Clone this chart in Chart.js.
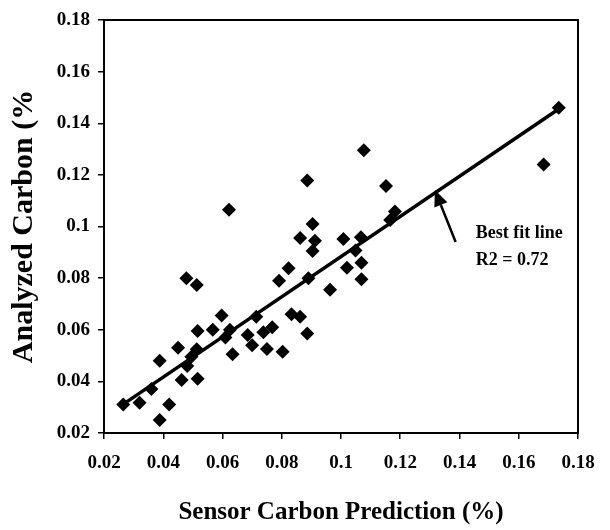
<!DOCTYPE html>
<html>
<head>
<meta charset="utf-8">
<script src="https://cdn.jsdelivr.net/npm/chart.js@4.4.1/dist/chart.umd.min.js"></script>
<style>
  html, body { margin: 0; padding: 0; background: #fff; }
  #wrap { width: 610px; height: 530px; }
</style>
</head>
<body>
<div id="wrap"><canvas id="chart"></canvas></div>
<script>
// sensor prediction (x) vs analyzed carbon (y)
const sensorX = [0.0265, 0.032, 0.036, 0.0388, 0.042, 0.0388, 0.045, 0.0478, 0.0513, 0.0462,
  0.0516, 0.0481, 0.0516, 0.0513, 0.0495, 0.0567, 0.0597, 0.0622, 0.0625, 0.061,
  0.0634, 0.0685, 0.0714, 0.070, 0.0738, 0.0768, 0.075, 0.0803, 0.0791, 0.0823,
  0.0833, 0.0862, 0.0886, 0.0862, 0.0886, 0.0904, 0.0912, 0.0904, 0.089, 0.0963,
  0.1008, 0.102, 0.1049, 0.1067, 0.1069, 0.1069, 0.1077, 0.1152, 0.1166, 0.1182,
  0.1684, 0.1735];
const analyzedY = [0.031, 0.0317, 0.037, 0.025, 0.031, 0.048, 0.053, 0.080, 0.0773, 0.0405,
  0.041, 0.046, 0.0595, 0.0524, 0.0495, 0.060, 0.0655, 0.1065, 0.060, 0.057,
  0.0505, 0.058, 0.065, 0.054, 0.059, 0.061, 0.0525, 0.0515, 0.079, 0.0838,
  0.066, 0.065, 0.0585, 0.0955, 0.1178, 0.101, 0.0945, 0.0905, 0.080, 0.0755,
  0.0952, 0.084, 0.0907, 0.0958, 0.086, 0.0796, 0.1295, 0.1157, 0.1025, 0.1058,
  0.1240, 0.1460];

// best fit line end points
const fitX = [0.0263, 0.1735];
const fitY = [0.031, 0.1455];

const xTicks = [0.02, 0.04, 0.06, 0.08, 0.1, 0.12, 0.14, 0.16, 0.18];
const yTicks = [0.02, 0.04, 0.06, 0.08, 0.1, 0.12, 0.14, 0.16, 0.18];

const noteText = ["Best fit line", "R2 = 0.72"];

const serif = "'Liberation Serif', 'DejaVu Serif', serif";

// arrow + label next to the fit line, placed in data units
const notePlugin = {
  id: 'note',
  afterDatasetsDraw(chart) {
    const { ctx, scales: { x, y } } = chart;
    const tipX = x.getPixelForValue(0.1317), tipY = y.getPixelForValue(0.1141);
    const tailX = x.getPixelForValue(0.1387), tailY = y.getPixelForValue(0.094);
    ctx.save();
    ctx.strokeStyle = '#000';
    ctx.fillStyle = '#000';
    ctx.lineWidth = 2.5;
    const ang = Math.atan2(tipY - tailY, tipX - tailX);
    const headLen = 16, headW = 7;
    const baseX = tipX - Math.cos(ang) * headLen, baseY = tipY - Math.sin(ang) * headLen;
    ctx.beginPath();
    ctx.moveTo(tailX, tailY);
    ctx.lineTo(baseX, baseY);
    ctx.stroke();
    ctx.beginPath();
    ctx.moveTo(tipX, tipY);
    ctx.lineTo(baseX + Math.sin(ang) * headW, baseY - Math.cos(ang) * headW);
    ctx.lineTo(baseX - Math.sin(ang) * headW, baseY + Math.cos(ang) * headW);
    ctx.closePath();
    ctx.fill();

    ctx.font = 'bold 18px ' + serif;
    ctx.textBaseline = 'middle';
    ctx.textAlign = 'left';
    ctx.fillText(noteText[0], x.getPixelForValue(0.1455), y.getPixelForValue(0.0974));
    ctx.fillText(noteText[1], x.getPixelForValue(0.1455), y.getPixelForValue(0.087));
    ctx.restore();
  }
};

// closes the box on top and right
const framePlugin = {
  id: 'frame',
  afterDraw(chart) {
    const { ctx, chartArea: a } = chart;
    ctx.save();
    ctx.strokeStyle = '#000';
    ctx.lineWidth = 2;
    ctx.strokeRect(a.left, a.top, a.right - a.left, a.bottom - a.top);
    ctx.restore();
  }
};

const points = sensorX.map((v, i) => ({ x: v, y: analyzedY[i] }));
const fitLine = fitX.map((v, i) => ({ x: v, y: fitY[i] }));

new Chart(document.getElementById('chart'), {
  type: 'scatter',
  data: {
    datasets: [
      {
        label: 'Samples',
        data: points,
        pointStyle: 'rectRot',
        pointRadius: 7,
        backgroundColor: '#000',
        borderColor: '#000',
        borderWidth: 0
      },
      {
        type: 'line',
        label: 'Best fit',
        data: fitLine,
        borderColor: '#000',
        borderWidth: 3.5,
        pointRadius: 0,
        fill: false
      }
    ]
  },
  options: {
    responsive: true,
    maintainAspectRatio: false,
    animation: false,
    layout: { padding: { left: 0, right: 32, top: 20, bottom: 0 } },
    plugins: { legend: { display: false }, tooltip: { enabled: false } },
    scales: {
      x: {
        type: 'linear',
        min: 0.02,
        max: 0.18,
        afterBuildTicks: s => { s.ticks = xTicks.map(v => ({ value: v })); },
        afterFit: s => { s.height = 97; },
        ticks: {
          callback: v => String(v),
          color: '#000',
          font: { family: serif, size: 19, weight: 'bold' },
          padding: 13,
          maxRotation: 0
        },
        grid: { drawOnChartArea: false, drawTicks: true, tickLength: 6, color: '#000', lineWidth: 1.5 },
        border: { display: true, color: '#000', width: 2 },
        title: {
          display: true,
          text: 'Sensor Carbon Prediction (%)',
          color: '#000',
          font: { family: serif, size: 25, weight: 'bold' },
          padding: { top: 0, bottom: 2 }
        }
      },
      y: {
        type: 'linear',
        min: 0.02,
        max: 0.18,
        afterBuildTicks: s => { s.ticks = yTicks.map(v => ({ value: v })); },
        afterFit: s => { s.width = 104; },
        ticks: {
          callback: v => String(v),
          color: '#000',
          font: { family: serif, size: 19, weight: 'bold' },
          padding: 8
        },
        grid: { drawOnChartArea: false, drawTicks: true, tickLength: 6, color: '#000', lineWidth: 1.5 },
        border: { display: true, color: '#000', width: 2 },
        title: {
          display: true,
          text: 'Analyzed Carbon (%',
          color: '#000',
          font: { family: serif, size: 30, weight: 'bold' },
          padding: { top: 6, bottom: 0 }
        }
      }
    }
  },
  plugins: [notePlugin, framePlugin]
});
</script>
</body>
</html>
